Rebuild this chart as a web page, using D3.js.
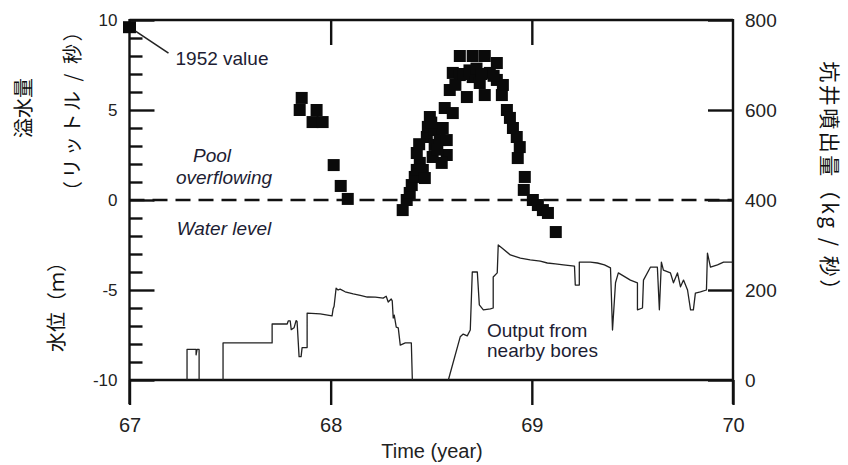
<!DOCTYPE html>
<html>
<head>
<meta charset="utf-8">
<script src="https://cdn.jsdelivr.net/npm/d3@7/dist/d3.min.js"></script>
<style>
  html, body { margin: 0; padding: 0; background: #fff; }
  svg { display: block; }
  .sans { font-family: "Liberation Sans", Arial, sans-serif; }
  .cjk { font-family: "Noto Sans CJK JP", "Noto Sans CJK SC", sans-serif; }
</style>
</head>
<body>
<svg id="chart" width="848" height="465"></svg>
<script>
// ---- Data ----
// Pool overflow (litres / s), by year (19xx)
const overflowYears = [
  67.856, 67.846, 67.930, 67.910, 67.960, 68.015, 68.050, 68.085,
  68.358, 68.378, 68.393, 68.403, 68.418, 68.428, 68.443, 68.428, 68.458, 68.468,
  68.478, 68.483, 68.493, 68.517, 68.517, 68.542, 68.557, 68.567, 68.607, 68.577,
  68.577, 68.552, 68.507, 68.592, 68.607, 68.642, 68.706, 68.766, 68.642, 68.677,
  68.706, 68.741, 68.766, 68.791, 68.826, 68.826, 68.851, 68.856, 68.876, 68.891,
  68.906, 68.925, 68.940, 68.930, 68.965, 68.960, 69.005, 69.030, 69.055, 69.080,
  69.119, 68.620, 68.660, 68.690, 68.725, 68.750, 68.810, 68.440, 68.500, 68.530
];
const overflowValues = [
  5.67, 5.00, 5.00, 4.33, 4.33, 1.94, 0.78, 0.06,
  -0.56, 0.00, 0.39, 0.83, 1.28, 1.67, 2.06, 2.61, 1.67, 1.22,
  3.50, 4.06, 4.61, 3.89, 3.06, 3.33, 4.00, 5.11, 4.83, 3.33,
  2.50, 2.06, 2.39, 6.11, 7.06, 8.00, 8.00, 8.00, 6.94, 5.72,
  6.83, 6.50, 5.83, 7.06, 7.61, 6.67, 5.83, 6.39, 5.00, 4.56,
  4.00, 3.50, 2.94, 2.33, 1.28, 0.56, 0.00, -0.28, -0.56, -0.72,
  -1.78, 6.40, 7.00, 7.20, 7.30, 7.00, 6.90, 3.10, 4.30, 2.80
];
// Value recorded in 1952
const pastYear = 67.0;
const pastValue = 9.6;

// Water level (m); null marks a gap in the record
const levelYears = [
  67.286, 67.286, 67.331, 67.331, 67.336, 67.346, 67.346, null,
  67.465, 67.465, 67.709, 67.709, 67.784, 67.789, 67.799, 67.804, 67.818, 67.828,
  67.833, 67.843, 67.853, 67.858, 67.883, 67.883, 67.948, 68.007, 68.012, 68.017,
  68.027, 68.037, 68.047, 68.072, 68.112, 68.147, 68.182, 68.222, 68.261, 68.276,
  68.286, 68.301, 68.306, 68.311, 68.316, 68.326, 68.336, 68.346, 68.371, 68.401,
  68.406
];
const levelValues = [
  -10, -8.3, -8.3, -8.6, -8.3, -8.3, -10, null,
  -10, -7.94, -7.94, -6.89, -6.89, -6.72, -6.72, -7.2, -7.1, -6.7,
  -6.75, -8.7, -8.7, -8.2, -8.2, -6.28, -6.33, -6.44, -6.06, -5.9,
  -4.9, -5.0, -4.95, -5.1, -5.22, -5.3, -5.39, -5.4, -5.45, -5.35,
  -5.67, -5.5, -5.6, -6.56, -6.4, -7.06, -7.1, -8.06, -7.94, -7.94,
  -10
];

// Output from nearby bores (kg / s)
const outputYears = [
  68.585, 68.644, 68.659, 68.679, 68.694, 68.704, 68.729, 68.739, 68.759, 68.794,
  68.808, 68.808, 68.828, 68.833, 68.853, 68.893, 68.943, 68.992, 69.042, 69.077,
  69.117, 69.157, 69.212, 69.216, 69.236, 69.236, 69.291, 69.326, 69.361, 69.391,
  69.401, 69.416, 69.430, 69.490, 69.525, 69.525, 69.550, 69.555, 69.590, 69.624,
  69.634, 69.644, 69.654, 69.689, 69.704, 69.724, 69.739, 69.754, 69.774, 69.789,
  69.803, 69.813, 69.838, 69.868, 69.873, 69.888, 69.923, 69.953, 69.998
];
const outputValues = [
  0, 96, 102, 98, 111, 240, 240, 167, 156, 158,
  160, 229, 238, 300, 293, 278, 271, 267, 264, 260,
  258, 256, 253, 211, 211, 262, 262, 260, 256, 249,
  111, 216, 238, 222, 216, 156, 160, 222, 251, 251,
  156, 262, 244, 238, 216, 238, 207, 222, 200, 156,
  156, 193, 196, 200, 282, 251, 256, 262, 262
];

// Axis ticks
const yearTicks = [67, 68, 69, 70];
const leftMajorTicks = [-10, -5, 0, 5, 10];
const rightTicks = [0, 200, 400, 600, 800];

// ---- Layout ----
const svg = d3.select("#chart");
const plotLeft = 129.5, plotRight = 733, plotTop = 20, plotBottom = 380;
const ink = "#111";
const textInk = "#1d1d33";
const plain = d => String(d);   // hyphen-minus, as printed

const x = d3.scaleLinear().domain([67, 70]).range([plotLeft, plotRight]);
const yL = d3.scaleLinear().domain([-10, 10]).range([plotBottom, plotTop]);
const yR = d3.scaleLinear().domain([0, 800]).range([plotBottom, plotTop]);

// ---- Frame and axes ----
const g = svg.append("g");

function styleAxis(s, size) {
  s.attr("font-family", null).attr("class", "sans");
  s.select(".domain").remove();
  s.selectAll("line").attr("stroke", ink).attr("stroke-width", 2.4);
  if (size) s.selectAll("text").attr("font-size", size).attr("fill", "#222");
}

// minor ticks on the left axis, pointing inward
const minorTicks = d3.range(-9, 10).filter(v => v % 5 !== 0);
g.append("g")
  .attr("transform", `translate(${plotLeft},0)`)
  .call(d3.axisLeft(yL).tickValues(minorTicks).tickSizeInner(-13).tickSizeOuter(0).tickFormat(""))
  .call(s => styleAxis(s));

// major ticks + labels on the left axis
g.append("g")
  .attr("transform", `translate(${plotLeft},0)`)
  .call(d3.axisLeft(yL).tickValues(leftMajorTicks).tickSizeInner(-25).tickSizeOuter(0).tickPadding(12).tickFormat(plain))
  .call(s => styleAxis(s, 17));

// right axis
g.append("g")
  .attr("transform", `translate(${plotRight},0)`)
  .call(d3.axisRight(yR).tickValues(rightTicks).tickSizeInner(-25).tickSizeOuter(0).tickPadding(12).tickFormat(plain))
  .call(s => styleAxis(s, 19));

// bottom axis, ticks pointing outward
g.append("g")
  .attr("transform", `translate(0,${plotBottom})`)
  .call(d3.axisBottom(x).tickValues(yearTicks).tickSizeInner(25).tickSizeOuter(0).tickPadding(13).tickFormat(plain))
  .call(s => styleAxis(s, 20));

// top axis, ticks pointing inward
g.append("g")
  .attr("transform", `translate(0,${plotTop})`)
  .call(d3.axisTop(x).tickValues([68, 69]).tickSizeInner(-25).tickSizeOuter(0).tickFormat(""))
  .call(s => styleAxis(s));

// frame lines
const frame = g.append("g").attr("stroke", ink).attr("stroke-width", 2.4).attr("fill", "none");
frame.append("line").attr("x1", plotLeft).attr("x2", plotRight).attr("y1", plotTop).attr("y2", plotTop);
frame.append("line").attr("x1", plotLeft).attr("x2", plotRight).attr("y1", plotBottom).attr("y2", plotBottom);
frame.append("line").attr("x1", plotLeft).attr("x2", plotLeft).attr("y1", plotTop - 1).attr("y2", plotBottom + 24);
frame.append("line").attr("x1", plotRight).attr("x2", plotRight).attr("y1", plotTop - 1).attr("y2", plotBottom + 24);

// zero level (pool surface)
g.append("line")
  .attr("x1", x(67)).attr("x2", x(70))
  .attr("y1", yL(0)).attr("y2", yL(0))
  .attr("stroke", ink).attr("stroke-width", 2.6)
  .attr("stroke-dasharray", "15,8");

// ---- Series lines ----
const levelData = levelYears.map((d, i) => [d, levelValues[i]]);
const outputData = outputYears.map((d, i) => [d, outputValues[i]]);

const levelLine = d3.line()
  .defined(d => d[0] != null && d[1] != null)
  .x(d => x(d[0])).y(d => yL(d[1]));
const outputLine = d3.line()
  .x(d => x(d[0])).y(d => yR(d[1]));

g.append("path").datum(levelData)
  .attr("d", levelLine).attr("fill", "none")
  .attr("stroke", "#222").attr("stroke-width", 1.3).attr("stroke-linejoin", "round");
g.append("path").datum(outputData)
  .attr("d", outputLine).attr("fill", "none")
  .attr("stroke", "#222").attr("stroke-width", 1.3).attr("stroke-linejoin", "round");

// ---- Overflow points ----
const sq = 12;
const overflowData = overflowYears.map((d, i) => [d, overflowValues[i]]);
g.append("g").selectAll("rect").data(overflowData).join("rect")
  .attr("x", d => x(d[0]) - sq / 2).attr("y", d => yL(d[1]) - sq / 2)
  .attr("width", sq).attr("height", sq).attr("fill", "#0a0a0a");

// 1952 value and its leader
const px = x(pastYear), py = yL(pastValue);
g.append("rect")
  .attr("x", px - 6.5).attr("y", py - 6).attr("width", 13).attr("height", 12)
  .attr("fill", "#0a0a0a");
g.append("line")
  .attr("x1", px + 6).attr("y1", py + 4).attr("x2", px + 39).attr("y2", py + 26)
  .attr("stroke", "#222").attr("stroke-width", 1.6);

// ---- Annotations ----
const ann = g.append("g").attr("class", "sans").attr("fill", textInk).attr("font-size", 19);
ann.append("text").attr("x", px + 46).attr("y", py + 38).text("1952 value");
ann.append("text").attr("x", 212).attr("y", 162).attr("text-anchor", "middle")
  .attr("font-style", "italic").text("Pool");
ann.append("text").attr("x", 224).attr("y", 184).attr("text-anchor", "middle")
  .attr("font-style", "italic").text("overflowing");
ann.append("text").attr("x", 224).attr("y", 235).attr("text-anchor", "middle")
  .attr("font-style", "italic").text("Water level");
ann.append("text").attr("x", 487).attr("y", 337).text("Output from");
ann.append("text").attr("x", 487).attr("y", 357).text("nearby bores");

// ---- Axis titles ----
svg.append("text").attr("class", "sans")
  .attr("x", 432).attr("y", 458).attr("text-anchor", "middle")
  .attr("font-size", 20).attr("fill", "#222").text("Time (year)");

const cjk = svg.append("g").attr("class", "cjk").attr("fill", "#111").attr("font-size", 20);
cjk.append("text").attr("transform", "translate(31,108) rotate(-90)")
  .attr("text-anchor", "middle").text("溢水量");
cjk.append("text").attr("transform", "translate(80,110) rotate(-90)")
  .attr("text-anchor", "middle").attr("letter-spacing", 2.5).text("（リットル / 秒）");
cjk.append("text").attr("transform", "translate(64,302) rotate(-90)")
  .attr("text-anchor", "middle").text("水位（ｍ）");
cjk.append("text").attr("transform", "translate(822,182) rotate(90)")
  .attr("text-anchor", "middle").attr("font-size", 21).attr("letter-spacing", 2.5)
  .text("坑井噴出量（kg / 秒）");
</script>
</body>
</html>
